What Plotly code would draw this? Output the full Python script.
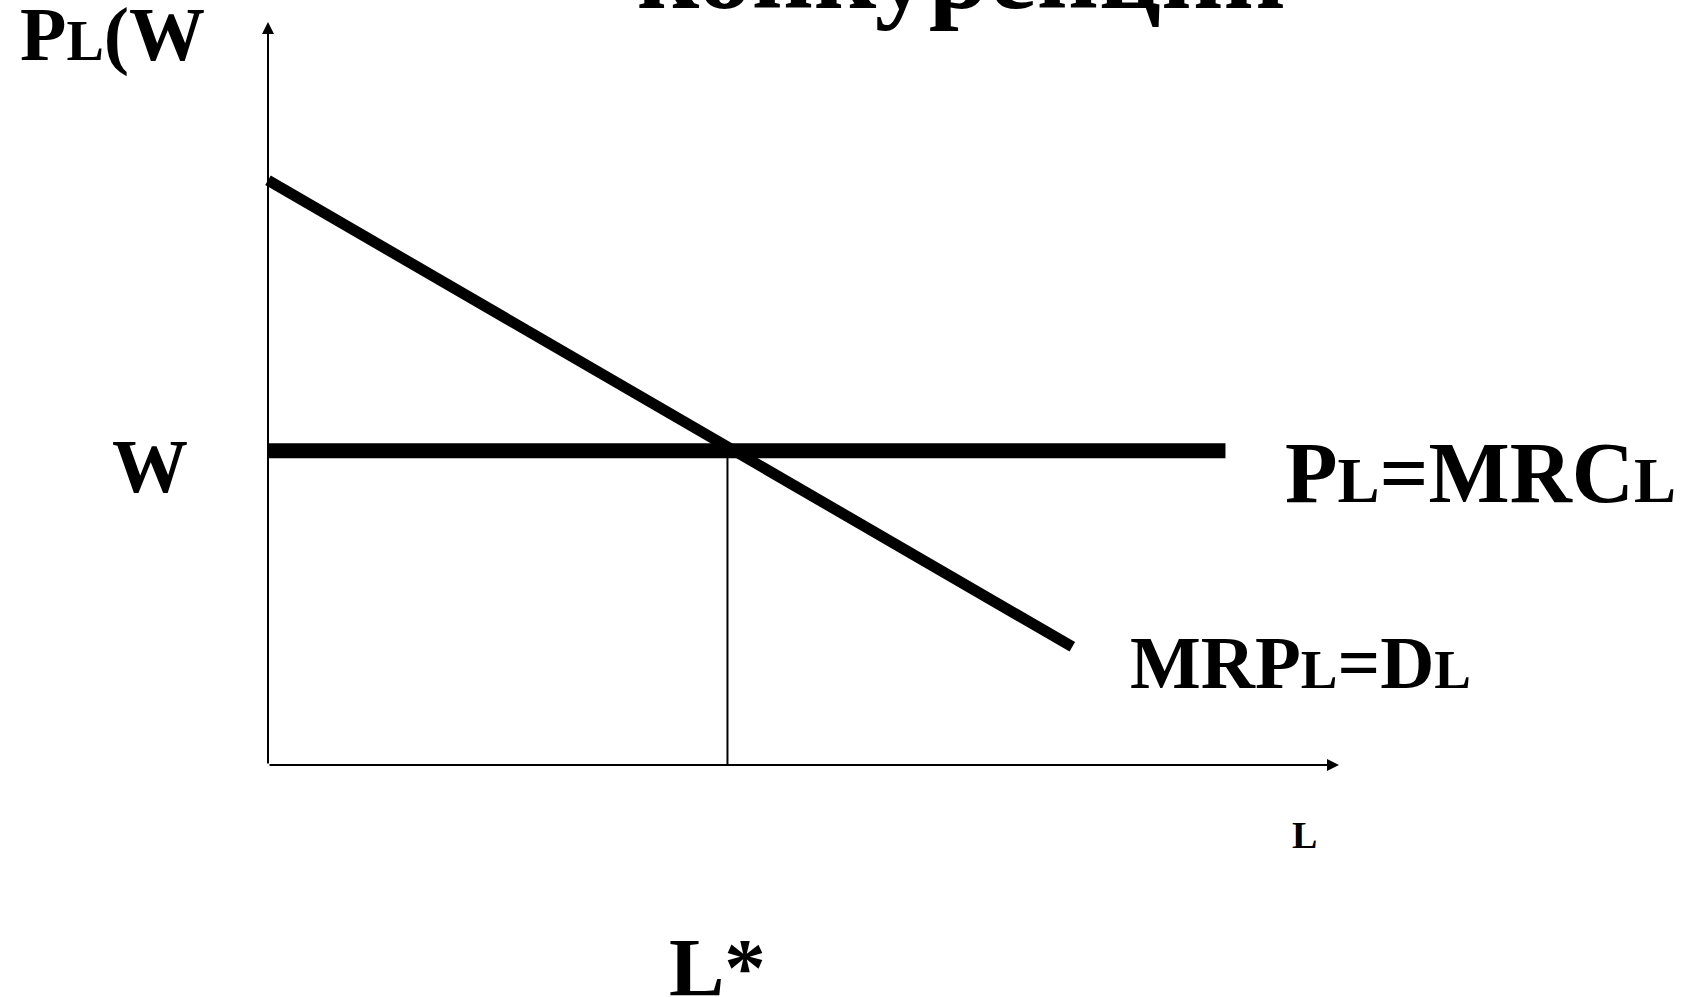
import plotly.graph_objects as go

# labour market under perfect competition (values in chart units)
labor_demand = [0, 7.51]
mrp_demand = [7.87, 1.59]
labor_wage = [0, 8.94]
wage_level = [4.23, 4.23]
l_star = [4.29, 4.29]
l_star_p = [0, 4.23]
axis_max_l = 10
axis_max_p = 10

W, H = 1686, 997
SERIF = "Liberation Serif, Times New Roman, serif"


def px(x):
    return x / W


def py(y):
    return 1 - y / H


def small(s, size):
    return "<span style='font-size:%dpx'>%s</span>" % (size, s)


fig = go.Figure()

fig.add_trace(go.Scatter(x=labor_demand, y=mrp_demand, mode="lines",
                         line={"color": "black", "width": 11}))
fig.add_trace(go.Scatter(x=labor_wage, y=wage_level, mode="lines",
                         line={"color": "black", "width": 15}))
fig.add_trace(go.Scatter(x=l_star, y=l_star_p, mode="lines",
                         line={"color": "black", "width": 2}))

# axes with arrows
for x1, y1 in [(axis_max_l, 0), (0, axis_max_p)]:
    fig.add_annotation(x=x1, y=y1, ax=0, ay=0, xref="x", yref="y",
                       axref="x", ayref="y", showarrow=True, text="",
                       arrowhead=2, arrowsize=1.2, arrowwidth=2,
                       arrowcolor="black")


def label(text, left, baseline, size):
    bottom = baseline + 0.216 * size + 2
    fig.add_annotation(x=px(left - 2), y=py(bottom), xref="paper", yref="paper",
                       xanchor="left", yanchor="bottom", showarrow=False,
                       text=text,
                       font={"family": SERIF, "size": size, "color": "black",
                             "weight": "bold"})


label("конкуренции", 637, 8, 108)
label("P" + small("L", 56) + "(W", 20, 61, 76)
label("W", 112, 492, 76)
label("P" + small("L", 63) + "=MRC" + small("L", 63), 1285, 502, 86)
label("MRP" + small("L", 55) + "=D" + small("L", 55), 1130, 688, 75)
label("L", 1292, 848, 38)
label("L*", 669, 995, 83)

fig.update_layout(
    width=W,
    height=H,
    margin={"l": 0, "r": 0, "t": 0, "b": 0},
    paper_bgcolor="white",
    plot_bgcolor="white",
    showlegend=False,
    xaxis={"range": [-268 / 107.1, (W - 268) / 107.1], "visible": False,
           "fixedrange": True},
    yaxis={"range": [(765 - H) / 74.3, 765 / 74.3], "visible": False,
           "fixedrange": True},
)

fig.write_html("out.html", config={"displayModeBar": False},
               post_script="document.body.style.margin='0';")
